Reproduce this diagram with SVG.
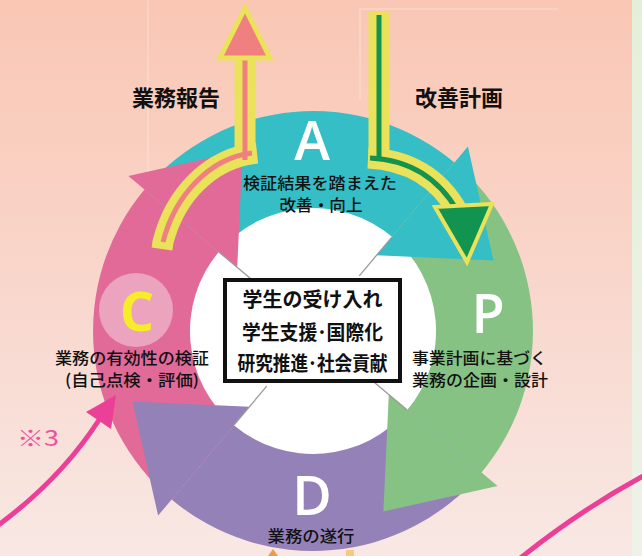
<svg xmlns="http://www.w3.org/2000/svg" width="642" height="556" viewBox="0 0 642 556">
  <defs>
    <linearGradient id="bg" x1="0" y1="0" x2="0" y2="1">
      <stop offset="0" stop-color="#f9c7b4"/>
      <stop offset="0.5" stop-color="#f9d6cb"/>
      <stop offset="1" stop-color="#f8e8e4"/>
    </linearGradient>
    <linearGradient id="strip" x1="0" y1="0" x2="0" y2="1">
      <stop offset="0" stop-color="#e4efd8"/>
      <stop offset="1" stop-color="#eef2e8"/>
    </linearGradient>
    <style>
      .lbl { font-family: 'Noto Sans CJK JP', 'Noto Sans CJK SC', sans-serif; font-size: 16px; font-weight: 500; fill: #111; text-anchor: middle; }
      .lbl-s { font-family: 'Noto Sans CJK JP', 'Noto Sans CJK SC', sans-serif; font-size: 16px; font-weight: 500; fill: #111; text-anchor: start; }
      .big { font-family: 'Noto Sans CJK JP', 'Noto Sans CJK SC', sans-serif; font-size: 22px; font-weight: 700; fill: #111; text-anchor: middle; }
      .boxt { font-family: 'Noto Sans CJK JP', 'Noto Sans CJK SC', sans-serif; font-size: 20px; font-weight: 700; fill: #111; text-anchor: middle; }
      .letter { font-family: 'Open Sans', 'Liberation Sans', Arial, sans-serif; font-size: 54px; font-weight: 600; fill: #ffffff; text-anchor: middle; }
      .faint { stroke: #ffffff; stroke-opacity: 0.4; stroke-width: 1; fill: none; }
      .neckline { stroke: #9a9a9a; stroke-width: 1.3; fill: none; }
      .yband { stroke: #e9e25a; stroke-width: 21; fill: none; stroke-linecap: butt; }
      .pinkline { stroke: #f07f80; stroke-width: 5; fill: none; }
      .greenline { stroke: #14934f; stroke-width: 5; fill: none; }
      .mag { stroke: #ec3f98; stroke-width: 5; fill: none; stroke-linecap: round; }
    </style>
  </defs>

  <!-- background -->
  <rect x="0" y="0" width="642" height="556" fill="url(#bg)"/>
  <rect x="632" y="0" width="10" height="556" fill="url(#strip)"/>
  <g id="faint-lines">
    <line class="faint" x1="148" y1="0" x2="148" y2="250"/>
    <line class="faint" x1="148" y1="250" x2="240" y2="250"/>
    <line class="faint" x1="360" y1="9" x2="558" y2="9"/>
    <line class="faint" x1="360" y1="9" x2="360" y2="100"/>
  </g>

  <!-- PDCA ring -->
  <g id="cycle-ring">
    <circle cx="313" cy="331" r="124" fill="#ffffff"/>
    <!-- bodies -->
    <path fill="#35bec6" d="M144.5,189.6 A220,220 0 0 1 454.4,162.5 L392.1,236.8 A123,123 0 0 0 218.8,251.9 Z"/>
    <path fill="#86c283" d="M454.4,162.5 A220,220 0 0 1 481.5,472.4 L407.2,410.1 A123,123 0 0 0 392.1,236.8 Z"/>
    <path fill="#9481b8" d="M481.5,472.4 A220,220 0 0 1 171.6,499.5 L233.9,425.2 A123,123 0 0 0 407.2,410.1 Z"/>
    <path fill="#e26a99" d="M171.6,499.5 A220,220 0 0 1 144.5,189.6 L218.8,251.9 A123,123 0 0 0 233.9,425.2 Z"/>
    <!-- heads -->
    <polygon fill="#35bec6" points="376.6,255.2 467.9,146.4 493.5,260.6"/>
    <polygon fill="#86c283" points="388.8,394.6 497.6,485.9 383.4,511.5"/>
    <polygon fill="#9481b8" points="249.4,406.8 158.1,515.6 132.5,401.4"/>
    <polygon fill="#e26a99" points="237.2,267.4 128.4,176.1 242.6,150.5"/>
    <!-- neck shading lines -->
    <line class="neckline" x1="359.3" y1="275.8" x2="392.1" y2="236.8"/>
    <line class="neckline" x1="368.2" y1="377.3" x2="407.2" y2="410.1"/>
    <line class="neckline" x1="266.7" y1="386.2" x2="233.9" y2="425.2"/>
    <line class="neckline" x1="257.8" y1="284.7" x2="218.8" y2="251.9"/>
  </g>

  <!-- connectors -->
  <g id="connectors">
    <!-- report arrow (up) -->
    <path class="yband" d="M245,58 V163"/>
    <path class="yband" d="M162,249 L163,242 C175,195 210,158 257,153"/>
    <path class="pinkline" d="M245,57 V160"/>
    <path class="pinkline" d="M163,242 C175,195 210,158 252,153"/>
    <polygon points="245,8 220,58 270,58" fill="#f07f80" stroke="#e9e25a" stroke-width="5" stroke-linejoin="miter"/>
    <!-- plan arrow (down) -->
    <path class="yband" d="M379,12 V166"/>
    <path class="yband" d="M368,158 C412,160 440,180 458,212"/>
    <path class="greenline" d="M379,15 V160"/>
    <path class="greenline" d="M370,158 C412,160 440,180 458,212"/>
    <polygon points="435,207 492,204 467,262" fill="#10944f" stroke="#e9e25a" stroke-width="4" stroke-linejoin="miter"/>
    <!-- ※3 arrow -->
    <path class="mag" d="M-3,526 Q60,480 99,420"/>
    <polygon points="116,395 86,412 111,429" fill="#ec3f98"/>
    <!-- right curve -->
    <path class="mag" d="M518,560 Q580,510 645,475"/>
    <!-- bottom small marks -->
    <polygon points="273,549 268,556 278,556" fill="#f39a3a"/>
    <rect x="346" y="550" width="8" height="6" fill="#f9c87e"/>
  </g>

  <!-- nodes -->
  <g id="node-A">
    <text class="letter" x="312" y="160">A</text>
    <text class="lbl" x="320" y="189" textLength="154" lengthAdjust="spacingAndGlyphs">検証結果を踏まえた</text>
    <text class="lbl" x="321" y="211" textLength="83" lengthAdjust="spacingAndGlyphs">改善・向上</text>
  </g>
  <g id="node-P">
    <text class="letter" x="488" y="333">P</text>
    <text class="lbl-s" x="412" y="364" textLength="135" lengthAdjust="spacingAndGlyphs">事業計画に基づく</text>
    <text class="lbl-s" x="412" y="386" textLength="136" lengthAdjust="spacingAndGlyphs">業務の企画・設計</text>
  </g>
  <g id="node-D">
    <text class="letter" x="312" y="515">D</text>
    <text class="lbl" x="311" y="542" textLength="87" lengthAdjust="spacingAndGlyphs">業務の遂行</text>
  </g>
  <g id="node-C">
    <circle cx="136" cy="310" r="37" fill="#eca3bd"/>
    <text class="letter" x="137" y="331" style="fill:#f6ec2a; font-weight:700">C</text>
    <text class="lbl" x="132" y="364" textLength="154" lengthAdjust="spacingAndGlyphs">業務の有効性の検証</text>
    <text class="lbl" x="132" y="386" textLength="134" lengthAdjust="spacingAndGlyphs">(自己点検・評価)</text>
  </g>
  <g id="node-center">
    <rect x="225" y="280" width="175" height="101" fill="#ffffff" stroke="#111" stroke-width="4"/>
    <text class="boxt" x="312.5" y="307" textLength="140" lengthAdjust="spacingAndGlyphs">学生の受け入れ</text>
    <text class="boxt" x="312.5" y="340" textLength="141" lengthAdjust="spacingAndGlyphs">学生支援･国際化</text>
    <text class="boxt" x="312.5" y="371" textLength="150" lengthAdjust="spacingAndGlyphs">研究推進･社会貢献</text>
  </g>
  <g id="labels">
    <text class="big" x="176" y="106">業務報告</text>
    <text class="big" x="459" y="106">改善計画</text>
    <text x="17" y="446" font-family="'Noto Sans CJK JP', 'Liberation Sans', sans-serif" font-size="22" fill="#ee4f9e" textLength="42" lengthAdjust="spacingAndGlyphs">※3</text>
  </g>
</svg>
